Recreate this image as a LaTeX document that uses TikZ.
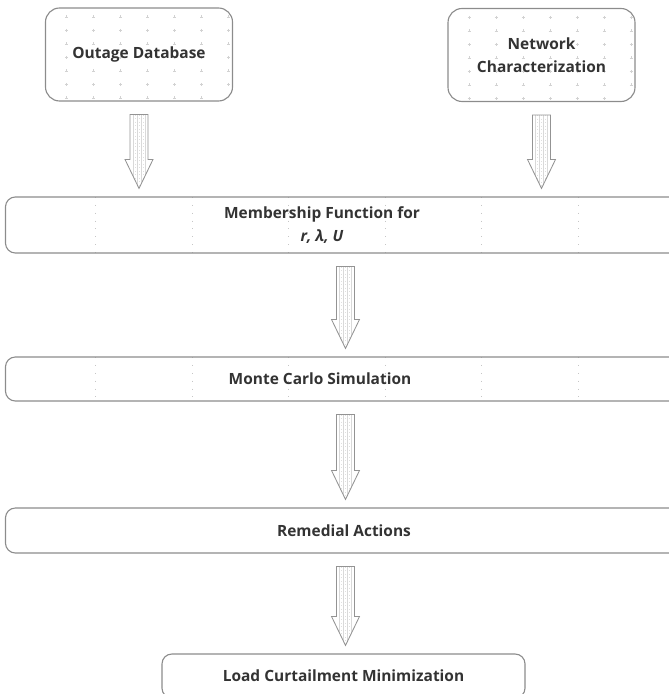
\documentclass[tikz,border=0pt]{standalone}
\usepackage{fontspec}
\setmainfont{Open Sans}
\usetikzlibrary{calc}

\newcommand{\pxu}{0.025cm}
\definecolor{edgegray}{HTML}{8C8C8C}
\definecolor{textgray}{HTML}{333333}

\tikzset{
  boxtext/.style={text=textgray, font=\bfseries\fontsize{11}{16}\selectfont, align=center, inner sep=0pt},
  topbox/.style={boxtext, draw=edgegray, line width=0.8pt, rounded corners=10pt,
    minimum width=187*\pxu, minimum height=93*\pxu,
    path picture={\foreach \i in {0,...,6} \foreach \j in {0,...,6}
      \draw[gray!35, line width=0.3pt] ($(path picture bounding box.north west)+(21+27*\i,9+13.5*\j)$)
        +(-1.5,0) -- +(1.5,0) +(0,-1.5) -- +(0,1.5);}},
  widebox/.style={draw=edgegray, line width=0.8pt, rounded corners=7pt,
    minimum width=680*\pxu, inner sep=0pt},
  dotcols/.style={path picture={\foreach \k in {0,...,5}
      \draw[gray!45, line width=0.5pt, dash pattern=on 0.6pt off 5pt]
        ($(path picture bounding box.north west)+(90+96.5*\k,0)$) -- ($(path picture bounding box.south west)+(90+96.5*\k,0)$);}},
  bigarrow/.style={draw=gray!85, line width=0.6pt, fill=white,
    path picture={\foreach \dx in {-6,-2,2,6}
      \draw[gray!30, line width=0.3pt] ($(path picture bounding box.north)+(\dx,0)$) -- ($(path picture bounding box.south)+(\dx,0)$);
      \foreach \dx in {-4,0,4}
      \draw[gray!25, line width=0.3pt, dash pattern=on 0.5pt off 2pt] ($(path picture bounding box.north)+(\dx,0)$) -- ($(path picture bounding box.south)+(\dx,0)$);}},
}

% hollow block arrow from the bottom of #1 down to the top of #2
\newcommand{\blockarrow}[2]{%
  \coordinate (atop) at ($(#1.south)+(0,13)$);
  \coordinate (atip) at ($(atop |- #2.north)+(0,-8)$);
  \draw[bigarrow] ($(atop)+(-9,0)$) -- ($(atop)+(9,0)$) -- ($(atip)+(9,-29)$) -- ($(atip)+(14,-29)$)
    -- (atip) -- ($(atip)+(-14,-29)$) -- ($(atip)+(-9,-29)$) -- cycle;}

\begin{document}
\begin{tikzpicture}[x=0.025cm, y=-0.025cm]
  \useasboundingbox (0,0) rectangle (668,694);

  \node[topbox] (od) at (139,54.5) {Outage Database};
  \node[topbox] (nc) at (541.5,55) {Network\\Characterization};

  \node[widebox, dotcols, minimum height=56*\pxu] (mf) at (345.5,225) {};
  \node[boxtext] (mft) at (322,225) {Membership Function for\\\textit{r, λ, U}};

  \node[widebox, dotcols, minimum height=44*\pxu] (mc) at (345.5,379) {};
  \node[boxtext] (mct) at (320,379) {Monte Carlo Simulation};

  \node[widebox, minimum height=45*\pxu] (ra) at (345.5,530.5) {};
  \node[boxtext] (rat) at (344,530.5) {Remedial Actions};

  \node[widebox, boxtext, minimum width=363*\pxu, minimum height=44*\pxu] (lc) at (343.5,676) {Load Curtailment Minimization};

  \blockarrow{od}{mf}
  \blockarrow{nc}{mf}
  \blockarrow{mf}{mc}
  \blockarrow{mc}{ra}
  \blockarrow{ra}{lc}
\end{tikzpicture}
\end{document}
